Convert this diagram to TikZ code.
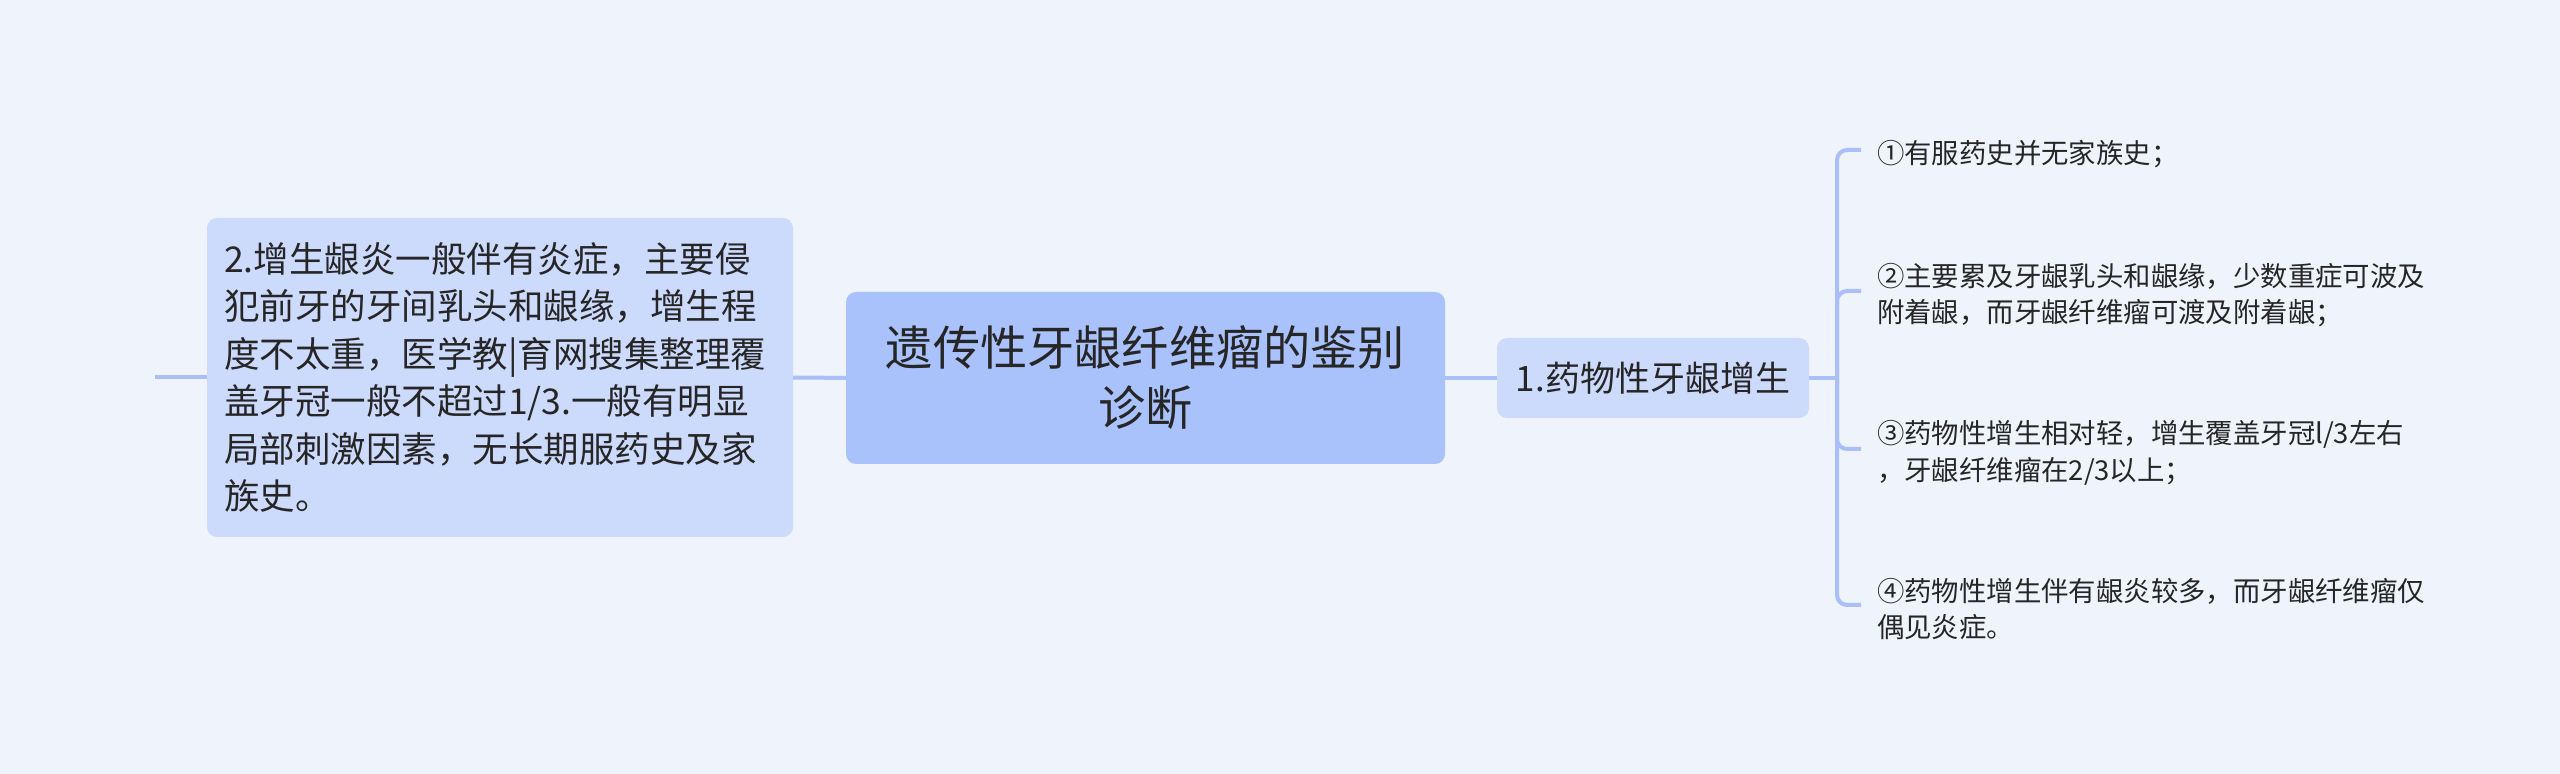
\documentclass[tikz,border=0pt]{standalone}
\usepackage{fontspec}
\setmainfont{Noto Sans CJK SC}

\begin{document}
\begin{tikzpicture}[y=0.5pt, x=0.5pt, yscale=-1, inner sep=0pt, outer sep=0pt]
\definecolor{bg}{HTML}{EEF3FC}
\definecolor{rootblue}{HTML}{A9C2FB}
\definecolor{subblue}{HTML}{CCDAFC}
\definecolor{wire}{HTML}{AABFF7}
\definecolor{ink}{HTML}{262626}
\path[fill=bg] (0,0) rectangle (2560,774);
% main topic
\node [fill=rootblue, rounded corners=5pt, minimum width=299.5pt, minimum height=86pt, align=center, text=ink, font=\fontsize{23.6}{30}\selectfont] (root) at (1145.5,378) {遗传性牙龈纤维瘤的鉴别\\诊断};
% left branch
\node [fill=subblue, rounded corners=5pt, minimum width=293pt, minimum height=159.5pt, text width=276pt, inner xsep=8.5pt, align=left, text=ink, font=\fontsize{17.75}{23.7}\selectfont] (hyper) at (500,377.5) {2.增生龈炎一般伴有炎症，主要侵\\犯前牙的牙间乳头和龈缘，增生程\\度不太重，医学教|育网搜集整理覆\\盖牙冠一般不超过1/3.一般有明显\\局部刺激因素，无长期服药史及家\\族史。};
\coordinate (stub) at (155,377.5);
% right branch
\node [fill=subblue, rounded corners=5pt, minimum width=156pt, minimum height=40pt, text=ink, font=\fontsize{17.5}{22}\selectfont] (drug) at (1653,378) {1.药物性牙龈增生};
\coordinate (hub) at (1837,378);
% leaves (text sits a little below its branch)
\node [anchor=west, inner xsep=8pt, align=left, text=ink, font=\fontsize{13.7}{18.2}\selectfont] (l1) at (1861,154) {①有服药史并无家族史；};
\node [anchor=west, inner xsep=8pt, align=left, text=ink, font=\fontsize{13.7}{18.2}\selectfont] (l2) at (1861,295) {②主要累及牙龈乳头和龈缘，少数重症可波及\\附着龈，而牙龈纤维瘤可渡及附着龈；};
\node [anchor=west, inner xsep=8pt, align=left, text=ink, font=\fontsize{13.7}{18.2}\selectfont] (l3) at (1861,453) {③药物性增生相对轻，增生覆盖牙冠l/3左右\\，牙龈纤维瘤在2/3以上；};
\node [anchor=west, inner xsep=8pt, align=left, text=ink, font=\fontsize{13.7}{18.2}\selectfont] (l4) at (1861,609) {④药物性增生伴有龈炎较多，而牙龈纤维瘤仅\\偶见炎症。};
% connectors
\draw [draw=wire, line width=2pt] (stub) -- (hyper.west);
\draw [draw=wire, line width=2pt] (hyper) -- (root);
\draw [draw=wire, line width=2pt] (root) -- (drug);
\draw [draw=wire, line width=2pt] (drug) -- (hub);
\foreach \leaf in {l1,l2,l3,l4}
  \draw [draw=wire, line width=2pt, rounded corners=5pt] (hub) |- ([yshift=-2pt]\leaf.west);
\end{tikzpicture}
\end{document}
